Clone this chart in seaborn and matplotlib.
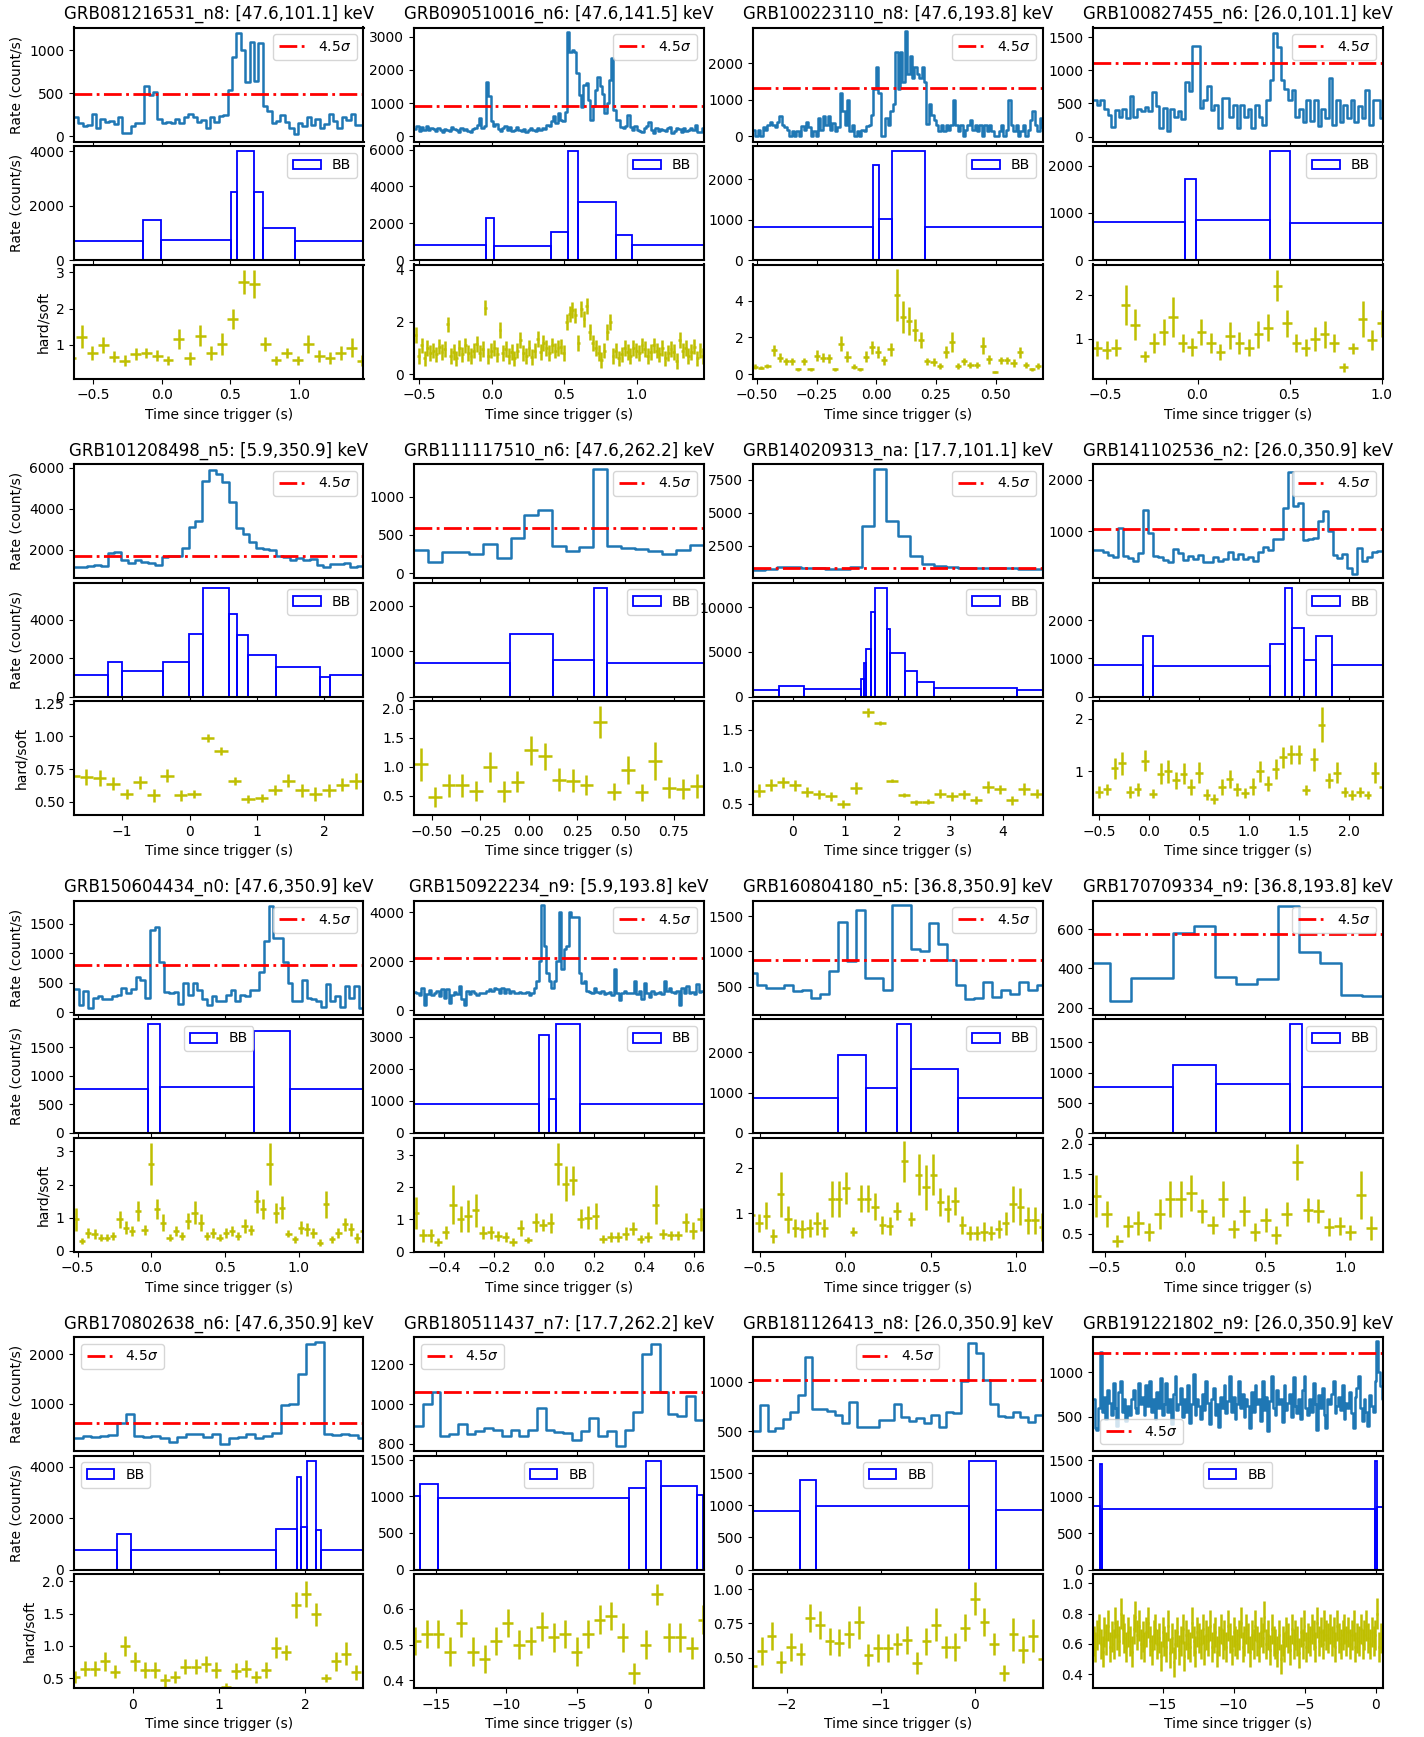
import numpy as np
import matplotlib
matplotlib.use("Agg")
import matplotlib.pyplot as plt
import seaborn as sns

plt.rcParams.update({
    "font.family": ["DejaVu Sans"],
    "font.size": 10,
    "axes.linewidth": 1.5,
    "xtick.labelsize": 10,
    "ytick.labelsize": 10,
    "legend.fontsize": 10,
    "axes.titlesize": 12,
})

# ---------------- GRB081216531 ----------------
title_081216531 = "GRB081216531_n8: [47.6,101.1] keV"
lc_bins_081216531 = (-0.64, 0.032)
lc_081216531 = [230, 150, 120, 130, 260, 100, 200, 170, 180, 140,
                220, 40, 40, 120, 160, 160, 590, 480, 520, 200,
                160, 170, 160, 200, 160, 230, 260, 230, 170, 190,
                100, 220, 170, 240, 250, 540, 920, 1200, 1000, 630,
                1100, 640, 1090, 350, 300, 150, 180, 250, 170, 100,
                30, 150, 120, 220, 130, 200, 100, 140, 260, 180,
                100, 230, 190, 260, 130, 130]
thr_081216531 = 488
bb_edges_081216531 = [-0.64, -0.139, -0.007, 0.502, 0.545, 0.673, 0.739, 0.970, 1.47]
bb_rate_081216531 = [714, 1465, 750, 2500, 4000, 2500, 1170, 714]
hr_bins_081216531 = (-0.663, 0.0787)
hr_081216531 = [0.63, 1.23, 0.78, 1.0, 0.68, 0.57, 0.76, 0.78, 0.7, 0.58, 1.17, 0.63, 1.26, 0.78,
                1.03, 1.72, 2.72, 2.67, 1.03, 0.58, 0.78, 0.58, 1.03, 0.7, 0.65, 0.78, 0.93, 0.57]
hr_err_081216531 = [0.2, 0.32, 0.18, 0.22, 0.15, 0.15, 0.17, 0.15, 0.15, 0.13, 0.28, 0.17, 0.3, 0.2,
                    0.3, 0.28, 0.33, 0.38, 0.2, 0.12, 0.15, 0.12, 0.25, 0.17, 0.17, 0.2, 0.25, 0.15]

# ---------------- GRB090510016 ----------------
title_090510016 = "GRB090510016_n6: [47.6,141.5] keV"
lc_bins_090510016 = (-0.537, 0.016)
lc_090510016 = [230, 320, 150, 280, 200, 310, 180, 250, 220, 160, 260, 200, 140, 230, 180,
                160, 290, 220, 180, 120, 260, 200, 230, 170, 140, 230, 250, 330, 560, 250,
                300, 1650, 1200, 450, 300,
                380, 220, 160, 260, 300, 200, 280, 150, 200, 270, 190, 160, 230, 140, 200,
                250, 180, 160, 240, 200, 260, 230, 350, 300,
                450, 620, 400, 700, 500, 450, 720, 3150,
                2550, 2600, 2550,
                1900, 1250, 880, 1550, 1600, 1100, 480, 900, 1400, 1790, 1500, 1280, 700, 1000,
                1700, 2350, 800, 480, 480, 270,
                260, 300, 650, 270, 200, 300, 180, 150, 120, 250, 300, 420, 200, 100, 240, 160,
                220, 200, 150, 260, 280, 100, 160, 240, 220, 130, 260, 170, 200, 250, 180, 330,
                140, 120, 250]
thr_090510016 = 910
bb_edges_090510016 = [-0.537, -0.038, 0.016, 0.405, 0.528, 0.597, 0.857, 0.967, 1.46]
bb_rate_090510016 = [840, 2265, 785, 1516, 5900, 3140, 1350, 840]
hr_bins_090510016 = (-0.524, 0.02)
hr_090510016 = [1.5, 0.7, 1.1, 0.6, 1.0, 0.8, 0.9, 0.75, 1.05, 0.85,
                0.95, 1.9, 0.7, 0.85, 0.6, 1.0, 0.75, 1.1, 0.8, 0.7,
                0.9, 1.15, 0.8, 0.95, 2.55, 0.7, 0.9, 1.0, 0.75, 1.7,
                0.8, 0.95, 0.7, 0.85, 0.6, 0.9, 1.3, 0.8, 0.7, 1.0,
                0.65, 0.9, 1.35, 0.85, 1.2, 1.0, 0.8, 1.1, 0.9, 1.0,
                1.05, 0.8, 2.0, 2.3, 2.45, 2.25, 1.2, 2.5, 2.1, 2.6,
                1.6, 1.2, 1.0, 0.8, 0.55, 0.9, 1.6, 2.0, 0.7, 0.9,
                0.6, 0.75, 1.0, 0.85, 0.7, 1.0, 0.9, 0.8, 1.1, 0.95,
                0.7, 0.85, 1.1, 0.9, 0.75, 1.0, 0.6, 0.8, 0.95, 0.85,
                0.5, 1.3, 0.9, 1.0, 0.7, 0.85, 1.05, 0.6, 0.9, 0.7]
hr_err_090510016 = 0.3

# ---------------- GRB100223110 ----------------
title_100223110 = "GRB100223110_n8: [47.6,193.8] keV"
lc_bins_100223110 = (-0.517, 0.0101)
lc_100223110 = [170, 0, 170, 0, 250, 170, 300, 400, 300, 250,
                400, 550, 300, 250, 170, 0, 150, 0, 150, 0,
                280, 170, 400, 250, 0, 150, 0, 500, 170, 550,
                300, 550, 170, 380, 150, 250, 1200, 700, 300, 1000,
                150, 300, 0, 150, 0, 170, 150, 280, 300, 600,
                1300, 1900, 1200, 0, 0, 500, 300, 700, 900, 2300,
                1300, 2300, 1500, 2900, 1700, 2200, 1600, 1900, 1700, 1600,
                1900, 1500, 350, 900, 600, 450, 300, 150, 300, 150,
                300, 170, 300, 1000, 300, 150, 300, 0, 170, 300,
                450, 170, 300, 150, 300, 0, 300, 150, 300, 150,
                0, 0, 150, 300, 0, 170, 1000, 300, 150, 300,
                0, 150, 300, 0, 170, 450, 700, 300, 150, 500,
                250]
thr_100223110 = 1330
bb_edges_100223110 = [-0.517, -0.013, 0.010, 0.067, 0.206, 0.697]
bb_rate_100223110 = [825, 2360, 1010, 2690, 825]
hr_bins_100223110 = (-0.508, 0.0258)
hr_100223110 = [0.4, 0.35, 0.45, 1.3, 0.9, 0.7, 0.7, 0.25, 0.7, 0.25,
                1.0, 0.9, 0.85, 0.25, 1.65, 0.95, 0.4, 0.25, 0.95, 1.45,
                1.2, 0.75, 1.35, 4.3, 3.1, 2.9, 2.4, 1.85, 0.7, 0.65,
                0.45, 1.2, 1.75, 0.45, 0.7, 0.5, 0.5, 1.55, 0.8, 0.1,
                0.75, 0.75, 0.6, 1.2, 0.5, 0.25, 0.45]
hr_err_100223110 = [0.15, 0.1, 0.12, 0.3, 0.25, 0.2, 0.2, 0.1, 0.2, 0.1,
                    0.3, 0.25, 0.25, 0.1, 0.4, 0.3, 0.15, 0.1, 0.3, 0.35,
                    0.35, 0.25, 0.35, 1.4, 0.85, 0.75, 0.6, 0.45, 0.2, 0.2,
                    0.15, 0.35, 0.55, 0.15, 0.2, 0.15, 0.15, 0.45, 0.25, 0.05,
                    0.2, 0.2, 0.2, 0.3, 0.15, 0.1, 0.15]

# ---------------- GRB100827455 ----------------
title_100827455 = "GRB100827455_n6: [26.0,101.1] keV"
lc_bins_100827455 = (-0.568, 0.02)
lc_100827455 = [560, 480, 560, 420, 320, 150, 400, 300, 420, 280,
                610, 300, 420, 380, 440, 380, 680, 460, 130, 430,
                80, 420, 300, 380, 270, 820, 690, 1370, 1370, 430,
                550, 760, 400, 480, 130, 580, 580, 300, 480, 130,
                480, 300, 420, 130, 480, 300, 170, 560, 850, 1560,
                1350, 850, 720, 560, 700, 300, 420, 220, 560, 230,
                560, 160, 420, 280, 880, 180, 560, 220, 480, 280,
                560, 220, 460, 280, 700, 180, 560, 560, 280]
thr_100827455 = 1110
bb_edges_100827455 = [-0.568, -0.066, -0.007, 0.396, 0.501, 1.005]
bb_rate_100827455 = [800, 1730, 850, 2305, 795]
hr_bins_100827455 = (-0.545, 0.0515)
hr_100827455 = [0.78, 0.75, 0.8, 1.77, 1.32, 0.6, 0.9, 1.15, 1.5, 0.9,
                0.82, 1.15, 0.9, 0.7, 1.07, 0.9, 0.8, 1.1, 1.25, 2.2,
                1.35, 0.9, 0.8, 1.0, 1.1, 0.9, 0.35, 0.78, 1.45, 0.97, 1.35]
hr_err_100827455 = [0.17, 0.2, 0.2, 0.45, 0.35, 0.13, 0.22, 0.3, 0.45, 0.2,
                    0.2, 0.3, 0.22, 0.18, 0.3, 0.25, 0.2, 0.3, 0.3, 0.35,
                    0.3, 0.2, 0.2, 0.27, 0.3, 0.2, 0.1, 0.12, 0.4, 0.22, 0.3]

# ---------------- GRB101208498 ----------------
title_101208498 = "GRB101208498_n5: [5.9,350.9] keV"
lc_bins_101208498 = (-1.715, 0.1)
lc_101208498 = [1150, 1150, 1200, 1250, 1200, 1850, 1900, 1500, 1350, 1500,
                1400, 1350, 1250, 1650, 1700, 1700, 2100, 3100, 3400, 5350,
                5900, 5700, 5300, 4350, 3050, 2750, 2400, 2100, 2050, 2000,
                1700, 1650, 1500, 1600, 1500, 1550, 1250, 1150, 1300, 1300,
                1350, 1150, 1200]
thr_101208498 = 1675
bb_edges_101208498 = [-1.715, -1.217, -1.009, -0.39, -0.013, 0.195, 0.578, 0.699, 0.861, 1.284, 1.93, 2.09, 2.58]
bb_rate_101208498 = [1143, 1800, 1350, 1818, 3255, 5645, 4277, 3203, 2182, 1541, 1004, 1143]
hr_bins_101208498 = (-1.733, 0.2)
hr_101208498 = [0.70, 0.69, 0.68, 0.64, 0.56, 0.65, 0.55, 0.70, 0.55, 0.56, 0.99,
                0.89, 0.66, 0.52, 0.53, 0.59, 0.66, 0.59, 0.56, 0.59, 0.63, 0.66]
hr_err_101208498 = [0.05, 0.06, 0.06, 0.05, 0.04, 0.05, 0.05, 0.05, 0.04, 0.03, 0.03,
                    0.03, 0.03, 0.03, 0.03, 0.04, 0.05, 0.05, 0.05, 0.05, 0.05, 0.06]

# ---------------- GRB111117510 ----------------
title_111117510 = "GRB111117510_n6: [47.6,262.2] keV"
lc_bins_111117510 = (-0.594, 0.0714)
lc_111117510 = [300, 140, 280, 270, 250, 380, 200, 460, 760, 830,
                350, 290, 340, 1360, 350, 330, 310, 290, 250, 300, 370]
thr_111117510 = 591
bb_edges_111117510 = [-0.594, -0.096, 0.125, 0.338, 0.404, 0.905]
bb_rate_111117510 = [745, 1365, 796, 2387, 745]
hr_bins_111117510 = (-0.558, 0.0714)
hr_111117510 = [1.04, 0.48, 0.68, 0.68, 0.58, 1.0, 0.58, 0.74, 1.28, 1.18,
                0.78, 0.76, 0.68, 1.77, 0.57, 0.94, 0.56, 1.1, 0.64, 0.62, 0.67]
hr_err_111117510 = [0.28, 0.17, 0.2, 0.2, 0.17, 0.26, 0.18, 0.18, 0.25, 0.23,
                    0.2, 0.2, 0.17, 0.28, 0.15, 0.24, 0.15, 0.32, 0.18, 0.17, 0.2]

# ---------------- GRB140209313 ----------------
title_140209313 = "GRB140209313_na: [17.7,101.1] keV"
lc_bins_140209313 = (-0.762, 0.2302)
lc_140209313 = [650, 720, 850, 900, 800, 780, 750, 760, 850, 4000, 8300, 4400,
                3250, 1700, 1100, 950, 850, 820, 820, 800, 800, 780, 700, 700]
thr_140209313 = 808
bb_edges_140209313 = [-0.762, -0.26, 0.208, 1.299, 1.351, 1.403, 1.489, 1.558, 1.80, 1.861,
                      2.139, 2.372, 2.684, 4.268, 4.762]
bb_rate_140209313 = [746, 1157, 821, 1940, 3769, 5300, 9440, 12160, 7612, 4925, 2910, 1640, 1000, 746]
hr_bins_140209313 = (-0.647, 0.2302)
hr_140209313 = [0.68, 0.76, 0.79, 0.75, 0.66, 0.63, 0.6, 0.5, 0.71, 1.74, 1.59, 0.81,
                0.62, 0.52, 0.53, 0.64, 0.6, 0.63, 0.55, 0.73, 0.7, 0.55, 0.7, 0.64]
hr_err_140209313 = [0.09, 0.08, 0.07, 0.07, 0.07, 0.06, 0.06, 0.05, 0.08, 0.06, 0.03, 0.02,
                    0.03, 0.03, 0.03, 0.06, 0.06, 0.06, 0.05, 0.08, 0.06, 0.06, 0.08, 0.06]

# ---------------- GRB141102536 ----------------
title_141102536 = "GRB141102536_n2: [26.0,350.9] keV"
lc_bins_141102536 = (-0.562, 0.05)
lc_141102536 = [650, 640, 600, 550, 510, 1060, 520, 480, 420, 580,
                1420, 980, 520, 500, 450, 400, 660, 580, 450, 530,
                460, 540, 400, 410, 500, 420, 460, 600, 470, 560,
                460, 500, 430, 600, 700, 640, 850, 850, 1450, 2150,
                1500, 1550, 830, 850, 870, 1200, 1400, 1000, 550, 480,
                560, 300, 170, 680, 420, 500, 600, 620]
thr_141102536 = 1045
bb_edges_141102536 = [-0.562, -0.063, 0.036, 1.21, 1.36, 1.428, 1.55, 1.668, 1.836, 2.339]
bb_rate_141102536 = [820, 1570, 793, 1366, 2840, 1789, 952, 1586, 820]
hr_bins_141102536 = (-0.499, 0.0768)
hr_141102536 = [0.6, 0.65, 1.05, 1.15, 0.6, 0.65, 1.2, 0.57, 0.95, 1.0,
                0.82, 0.95, 0.7, 0.97, 0.55, 0.47, 0.7, 0.85, 0.65, 0.58,
                0.7, 1.0, 0.76, 1.04, 1.26, 1.32, 1.32, 0.64, 1.23, 1.89,
                0.82, 0.97, 0.6, 0.54, 0.6, 0.54, 0.97, 0.7]
hr_err_141102536 = [0.12, 0.1, 0.2, 0.22, 0.12, 0.12, 0.2, 0.08, 0.2, 0.22,
                    0.17, 0.2, 0.15, 0.2, 0.1, 0.1, 0.15, 0.17, 0.13, 0.1,
                    0.16, 0.2, 0.15, 0.2, 0.2, 0.18, 0.18, 0.1, 0.22, 0.34,
                    0.14, 0.2, 0.1, 0.1, 0.1, 0.08, 0.2, 0.1]

# ---------------- GRB150604434 ----------------
title_150604434 = "GRB150604434_n0: [47.6,350.9] keV"
lc_bins_150604434 = (-0.525, 0.0322)
lc_150604434 = [400, 130, 370, 80, 250, 280, 230, 230, 280, 300,
                420, 330, 400, 600, 550, 250, 1400, 1440, 860, 350,
                330, 350, 150, 500, 300, 500, 380, 230, 120, 280,
                200, 200, 300, 380, 190, 290, 280, 380, 380, 690,
                1200, 1800, 1250, 1250, 850, 500, 200, 200, 550, 250,
                230, 200, 100, 480, 200, 280, 100, 440, 250, 450, 80]
thr_150604434 = 805
bb_edges_150604434 = [-0.525, -0.025, 0.061, 0.697, 0.94, 1.438]
bb_rate_150604434 = [762, 1895, 808, 1785, 762]
hr_bins_150604434 = (-0.513, 0.0424)
hr_150604434 = [0.95, 0.3, 0.55, 0.5, 0.4, 0.4, 0.45, 0.95, 0.7, 0.6,
                1.2, 0.62, 2.62, 1.25, 0.85, 0.4, 0.6, 0.45, 0.9, 1.15,
                0.85, 0.45, 0.55, 0.4, 0.55, 0.6, 0.45, 0.75, 0.62, 1.5,
                1.25, 2.62, 1.15, 1.3, 0.52, 0.35, 0.7, 0.65, 0.55, 0.25,
                1.4, 0.35, 0.55, 0.8, 0.65, 0.4, 0.6]
hr_err_150604434 = [0.35, 0.1, 0.15, 0.15, 0.1, 0.1, 0.12, 0.25, 0.2, 0.15,
                    0.3, 0.15, 0.62, 0.3, 0.25, 0.1, 0.15, 0.12, 0.25, 0.35,
                    0.25, 0.12, 0.15, 0.1, 0.15, 0.15, 0.12, 0.2, 0.15, 0.35,
                    0.3, 0.62, 0.3, 0.35, 0.1, 0.1, 0.2, 0.2, 0.15, 0.1,
                    0.4, 0.1, 0.15, 0.2, 0.2, 0.15, 0.2]

# ---------------- GRB150922234 ----------------
title_150922234 = "GRB150922234_n9: [5.9,193.8] keV"
lc_bins_150922234 = (-0.521, 0.01)
lc_150922234 = [740, 700, 620, 900, 230, 650, 820, 600, 700, 780,
                580, 850, 500, 880, 300, 600, 750, 650, 1000, 450,
                220, 770, 650, 800, 720, 600, 700, 720, 700, 770,
                850, 800, 900, 850, 700, 900, 720, 860, 700, 800,
                720, 700, 750, 680, 700, 750, 600, 700, 900, 1200,
                2000, 4300, 2600, 1500, 1200, 900, 1200, 2000, 4000, 1700,
                2500, 2600, 4000, 3800, 3800, 3800, 1500, 1100, 1200, 800,
                750, 700, 900, 750, 700, 800, 650, 700, 750, 600,
                1700, 700, 400, 700, 800, 700, 680, 700, 1200, 650,
                800, 450, 1100, 700, 550, 800, 650, 700, 750, 650,
                1200, 800, 900, 750, 700, 800, 200, 900, 700, 1000,
                700, 750, 650, 1050, 750, 800]
thr_150922234 = 2110
bb_edges_150922234 = [-0.521, -0.022, 0.02, 0.046, 0.142, 0.638]
bb_rate_150922234 = [893, 3053, 1059, 3385, 893]
hr_bins_150922234 = (-0.514, 0.03)
hr_150922234 = [1.2, 0.5, 0.5, 0.3, 0.6, 1.45, 1.0, 1.1, 1.27, 0.58,
                0.6, 0.48, 0.45, 0.3, 0.72, 0.35, 0.9, 0.82, 0.88, 2.7,
                2.1, 2.2, 1.02, 1.05, 1.1, 0.38, 0.45, 0.45, 0.55, 0.7,
                0.38, 0.45, 1.45, 0.55, 0.5, 0.5, 0.9, 0.65, 1.0]
hr_err_150922234 = [0.5, 0.2, 0.2, 0.12, 0.2, 0.6, 0.4, 0.5, 0.5, 0.2,
                    0.2, 0.15, 0.15, 0.12, 0.25, 0.1, 0.3, 0.2, 0.3, 0.65,
                    0.55, 0.45, 0.3, 0.35, 0.4, 0.12, 0.15, 0.15, 0.2, 0.2,
                    0.12, 0.15, 0.6, 0.15, 0.15, 0.15, 0.3, 0.25, 0.35]

# ---------------- GRB160804180 ----------------
title_160804180 = "GRB160804180_n5: [36.8,350.9] keV"
lc_bins_160804180 = (-0.571, 0.053)
lc_160804180 = [690, 520, 480, 480, 520, 440, 460, 340, 400, 720,
                1420, 870, 1590, 620, 620, 460, 1660, 1660, 1040, 1010,
                1400, 1110, 880, 530, 330, 340, 570, 350, 460, 390,
                560, 450, 520]
thr_160804180 = 880
bb_edges_160804180 = [-0.539, -0.04, 0.122, 0.305, 0.385, 0.658, 1.155]
bb_rate_160804180 = [869, 1926, 1123, 2697, 1590, 869]
hr_bins_160804180 = (-0.547, 0.0425)
hr_160804180 = [0.97, 0.78, 0.95, 0.5, 1.42, 0.87, 0.67, 0.66, 0.67, 0.78,
                0.68, 1.32, 1.32, 1.55, 0.6, 1.32, 1.32, 1.15, 0.75, 0.73,
                1.05, 2.15, 0.88, 1.85, 1.57, 1.85, 1.25, 1.1, 1.27, 0.75,
                0.57, 0.57, 0.6, 0.57, 0.65, 0.78, 1.2, 1.15, 0.85, 0.85, 0.7]
hr_err_160804180 = [0.2, 0.2, 0.3, 0.15, 0.5, 0.3, 0.2, 0.2, 0.2, 0.25,
                    0.2, 0.4, 0.4, 0.35, 0.1, 0.3, 0.3, 0.3, 0.2, 0.2,
                    0.2, 0.45, 0.15, 0.45, 0.5, 0.45, 0.3, 0.3, 0.3, 0.2,
                    0.15, 0.15, 0.2, 0.15, 0.2, 0.25, 0.4, 0.4, 0.3, 0.3, 0.3]

# ---------------- GRB170709334 ----------------
title_170709334 = "GRB170709334_n9: [36.8,193.8] keV"
lc_bins_170709334 = (-0.598, 0.131)
lc_170709334 = [430, 235, 350, 350, 580, 615, 355, 320, 345, 715, 485, 430, 265, 258]
thr_170709334 = 576
bb_edges_170709334 = [-0.572, -0.073, 0.192, 0.657, 0.733, 1.232]
bb_rate_170709334 = [758, 1132, 813, 1797, 758]
hr_bins_170709334 = (-0.553, 0.066)
hr_170709334 = [1.12, 0.83, 0.38, 0.62, 0.67, 0.52, 0.82, 1.07, 1.07, 1.17,
                0.88, 0.65, 1.08, 0.57, 0.87, 0.52, 0.72, 0.47, 0.82, 1.7,
                0.9, 0.87, 0.61, 0.62, 0.52, 1.14, 0.6]
hr_err_170709334 = [0.35, 0.22, 0.1, 0.18, 0.2, 0.15, 0.25, 0.3, 0.3, 0.3,
                    0.2, 0.15, 0.3, 0.15, 0.25, 0.15, 0.2, 0.15, 0.2, 0.3,
                    0.2, 0.2, 0.15, 0.15, 0.12, 0.4, 0.2]

# ---------------- GRB170802638 ----------------
title_170802638 = "GRB170802638_n6: [47.6,350.9] keV"
lc_bins_170802638 = (-0.682, 0.0997)
lc_170802638 = [310, 350, 330, 350, 370, 600, 800, 350, 330, 340,
                300, 220, 330, 380, 380, 330, 380, 180, 300, 330,
                390, 300, 340, 400, 970, 1000, 1600, 2200, 2250, 380,
                360, 380, 360, 300]
thr_170802638 = 608
bb_edges_170802638 = [-0.682, -0.184, -0.026, 1.664, 1.906, 1.948, 2.016, 2.121, 2.178, 2.672]
bb_rate_170802638 = [743, 1368, 743, 1590, 3622, 1642, 4234, 1550, 743]
hr_bins_170802638 = (-0.672, 0.1165)
hr_170802638 = [0.52, 0.65, 0.65, 0.76, 0.6, 1.0, 0.76, 0.63, 0.63, 0.47,
                0.52, 0.68, 0.68, 0.72, 0.63, 0.37, 0.61, 0.65, 0.52, 0.63,
                0.97, 0.9, 1.63, 1.8, 1.49, 0.51, 0.76, 0.88, 0.59]
hr_err_170802638 = [0.1, 0.12, 0.12, 0.15, 0.1, 0.15, 0.15, 0.12, 0.12, 0.1,
                    0.1, 0.12, 0.12, 0.13, 0.12, 0.06, 0.12, 0.13, 0.1, 0.12,
                    0.16, 0.12, 0.2, 0.2, 0.18, 0.06, 0.15, 0.18, 0.12]

# ---------------- GRB180511437 ----------------
title_180511437 = "GRB180511437_n7: [17.7,262.2] keV"
lc_bins_180511437 = (-16.54, 0.621)
lc_180511437 = [890, 1000, 1060, 840, 850, 900, 850, 865, 880, 870,
                840, 870, 840, 870, 980, 870, 860, 855, 820, 865,
                930, 840, 865, 790, 870, 960, 1250, 1305, 1060, 950,
                940, 1040, 920]
thr_180511437 = 1060
bb_edges_180511437 = [-16.54, -16.09, -14.81, -1.32, -0.1, 0.93, 3.47, 3.95]
bb_rate_180511437 = [1000, 1170, 982, 1120, 1486, 1142, 1014]
hr_bins_180511437 = (-16.44, 0.815)
hr_180511437 = [0.51, 0.53, 0.53, 0.48, 0.56, 0.48, 0.46, 0.51, 0.56, 0.5,
                0.51, 0.55, 0.52, 0.53, 0.48, 0.53, 0.57, 0.58, 0.52, 0.42,
                0.5, 0.64, 0.52, 0.52, 0.49, 0.57]
hr_err_180511437 = [0.04, 0.04, 0.04, 0.04, 0.04, 0.04, 0.04, 0.04, 0.04, 0.04,
                    0.04, 0.04, 0.04, 0.04, 0.04, 0.04, 0.04, 0.04, 0.04, 0.03,
                    0.04, 0.03, 0.04, 0.04, 0.03, 0.04]

# ---------------- GRB181126413 ----------------
title_181126413 = "GRB181126413_n8: [26.0,350.9] keV"
lc_bins_181126413 = (-2.362, 0.079)
lc_181126413 = [505, 770, 500, 530, 620, 690, 870, 1250, 720, 720,
                700, 660, 580, 800, 540, 540, 540, 610, 610, 780,
                640, 600, 630, 580, 660, 540, 690, 680, 1010, 1400,
                1300, 1020, 780, 650, 640, 690, 640, 590, 660]
thr_181126413 = 1017
bb_edges_181126413 = [-2.362, -1.86, -1.696, -0.058, 0.227, 0.72]
bb_rate_181126413 = [914, 1400, 987, 1693, 925]
hr_bins_181126413 = (-2.37, 0.103)
hr_181126413 = [0.44, 0.55, 0.66, 0.47, 0.58, 0.53, 0.79, 0.74, 0.62, 0.61,
                0.67, 0.76, 0.52, 0.57, 0.57, 0.6, 0.63, 0.46, 0.62, 0.74,
                0.58, 0.58, 0.72, 0.93, 0.76, 0.6, 0.39, 0.67, 0.56, 0.66, 0.49]
hr_err_181126413 = [0.05, 0.1, 0.1, 0.08, 0.1, 0.08, 0.1, 0.1, 0.1, 0.1,
                    0.1, 0.12, 0.08, 0.1, 0.1, 0.08, 0.1, 0.08, 0.1, 0.12,
                    0.08, 0.1, 0.1, 0.12, 0.1, 0.08, 0.06, 0.12, 0.1, 0.12, 0.1]

# ---------------- GRB191221802 ----------------
title_191221802 = "GRB191221802_n9: [26.0,350.9] keV"
lc_bins_191221802 = (-19.92, 0.128)
lc_191221802 = [700, 380, 350, 600, 1225, 560, 720, 480, 800, 650,
                520, 880, 600, 400, 780, 900, 560, 700, 450, 620,
                520, 700, 800, 600, 540, 880, 640, 720, 520, 860,
                620, 900, 560, 700, 480, 780, 600, 930, 520, 640,
                880, 560, 700, 420, 760, 950, 580, 640, 820, 500,
                700, 560, 860, 430, 640, 980, 520, 700, 620, 480,
                760, 580, 900, 650, 420, 700, 820, 520, 640, 390,
                720, 600, 860, 540, 680, 960, 560, 720, 480, 640,
                900, 600, 760, 500, 700, 620, 380, 780, 560, 850,
                640, 700, 460, 900, 580, 720, 340, 680, 960, 600,
                520, 800, 640, 700, 440, 860, 580, 660, 760, 500,
                940, 620, 540, 700, 480, 800, 960, 600, 520, 700,
                560, 880, 640, 360, 740, 600, 820, 520, 380, 700,
                640, 760, 900, 540, 620, 720, 580, 860, 480, 660,
                600, 780, 540, 380, 720, 820, 960, 600, 460, 700,
                560, 400, 740, 620, 560, 900, 1340, 1000, 840, 700]
thr_191221802 = 1207
bb_edges_191221802 = [-19.9, -19.42, -19.3, -0.07, 0.07, 0.48]
bb_rate_191221802 = [867, 1445, 835, 1491, 858]
hr_bins_191221802 = (-19.86, 0.128)
hr_191221802 = [0.62, 0.58, 0.66, 0.70, 0.60, 0.55, 0.68, 0.63, 0.72, 0.58, 0.65, 0.60, 0.74, 0.66, 0.62, 0.80, 0.70, 0.64, 0.58, 0.68,
                0.62, 0.55, 0.70, 0.78, 0.66, 0.72, 0.60, 0.65, 0.58, 0.68, 0.74, 0.62, 0.56, 0.66, 0.70, 0.60, 0.64, 0.52, 0.68, 0.62,
                0.58, 0.72, 0.54, 0.64, 0.48, 0.60, 0.68, 0.56, 0.62, 0.70, 0.52, 0.66, 0.60, 0.58, 0.74, 0.62, 0.55, 0.68, 0.64, 0.60,
                0.70, 0.56, 0.66, 0.62, 0.72, 0.58, 0.64, 0.68, 0.55, 0.62, 0.70, 0.60, 0.66, 0.58, 0.72, 0.64, 0.56, 0.68, 0.62, 0.60,
                0.66, 0.74, 0.58, 0.62, 0.70, 0.64, 0.55, 0.66, 0.60, 0.72, 0.62, 0.58, 0.68, 0.64, 0.78, 0.60, 0.66, 0.56, 0.70, 0.62,
                0.60, 0.55, 0.66, 0.50, 0.62, 0.58, 0.68, 0.64, 0.56, 0.70, 0.60, 0.66, 0.62, 0.54, 0.68, 0.60, 0.72, 0.58, 0.64, 0.62,
                0.70, 0.66, 0.58, 0.74, 0.62, 0.68, 0.60, 0.72, 0.66, 0.64, 0.70, 0.62, 0.68, 0.58, 0.72, 0.64, 0.60, 0.66, 0.70, 0.62,
                0.68, 0.60, 0.66, 0.72, 0.58, 0.64, 0.62, 0.70, 0.60, 0.66, 0.72, 0.64, 0.60, 0.68, 0.62, 0.66, 0.80, 0.58, 0.64, 0.62]
hr_err_191221802 = 0.1

bursts = [
    (title_081216531, lc_bins_081216531, lc_081216531, thr_081216531, bb_edges_081216531, bb_rate_081216531, hr_bins_081216531, hr_081216531, hr_err_081216531),
    (title_090510016, lc_bins_090510016, lc_090510016, thr_090510016, bb_edges_090510016, bb_rate_090510016, hr_bins_090510016, hr_090510016, hr_err_090510016),
    (title_100223110, lc_bins_100223110, lc_100223110, thr_100223110, bb_edges_100223110, bb_rate_100223110, hr_bins_100223110, hr_100223110, hr_err_100223110),
    (title_100827455, lc_bins_100827455, lc_100827455, thr_100827455, bb_edges_100827455, bb_rate_100827455, hr_bins_100827455, hr_100827455, hr_err_100827455),
    (title_101208498, lc_bins_101208498, lc_101208498, thr_101208498, bb_edges_101208498, bb_rate_101208498, hr_bins_101208498, hr_101208498, hr_err_101208498),
    (title_111117510, lc_bins_111117510, lc_111117510, thr_111117510, bb_edges_111117510, bb_rate_111117510, hr_bins_111117510, hr_111117510, hr_err_111117510),
    (title_140209313, lc_bins_140209313, lc_140209313, thr_140209313, bb_edges_140209313, bb_rate_140209313, hr_bins_140209313, hr_140209313, hr_err_140209313),
    (title_141102536, lc_bins_141102536, lc_141102536, thr_141102536, bb_edges_141102536, bb_rate_141102536, hr_bins_141102536, hr_141102536, hr_err_141102536),
    (title_150604434, lc_bins_150604434, lc_150604434, thr_150604434, bb_edges_150604434, bb_rate_150604434, hr_bins_150604434, hr_150604434, hr_err_150604434),
    (title_150922234, lc_bins_150922234, lc_150922234, thr_150922234, bb_edges_150922234, bb_rate_150922234, hr_bins_150922234, hr_150922234, hr_err_150922234),
    (title_160804180, lc_bins_160804180, lc_160804180, thr_160804180, bb_edges_160804180, bb_rate_160804180, hr_bins_160804180, hr_160804180, hr_err_160804180),
    (title_170709334, lc_bins_170709334, lc_170709334, thr_170709334, bb_edges_170709334, bb_rate_170709334, hr_bins_170709334, hr_170709334, hr_err_170709334),
    (title_170802638, lc_bins_170802638, lc_170802638, thr_170802638, bb_edges_170802638, bb_rate_170802638, hr_bins_170802638, hr_170802638, hr_err_170802638),
    (title_180511437, lc_bins_180511437, lc_180511437, thr_180511437, bb_edges_180511437, bb_rate_180511437, hr_bins_180511437, hr_180511437, hr_err_180511437),
    (title_181126413, lc_bins_181126413, lc_181126413, thr_181126413, bb_edges_181126413, bb_rate_181126413, hr_bins_181126413, hr_181126413, hr_err_181126413),
    (title_191221802, lc_bins_191221802, lc_191221802, thr_191221802, bb_edges_191221802, bb_rate_191221802, hr_bins_191221802, hr_191221802, hr_err_191221802),
]

# per-panel axis limits and legend placement
xlims = [(-0.64, 1.47), (-0.537, 1.46), (-0.517, 0.697), (-0.568, 1.005),
         (-1.715, 2.58), (-0.594, 0.905), (-0.762, 4.762), (-0.562, 2.339),
         (-0.525, 1.438), (-0.521, 0.638), (-0.539, 1.155), (-0.572, 1.232),
         (-0.682, 2.672), (-16.54, 3.95), (-2.362, 0.72), (-19.9, 0.48)]
lc_ylims = [(-60, 1265), (-160, 3280), (-140, 2985), (-75, 1650),
            (618, 6195), (-65, 1426), (50, 8712), (97, 2310),
            (-34, 1891), (-178, 4479), (105, 1724), (166, 745),
            (41, 2351), (763, 1338), (296, 1459), (122, 1389)]
hr_ylims = [(0.08, 3.21), (-0.17, 4.2), (-0.24, 5.96), (0.10, 2.68),
            (0.40, 1.27), (0.17, 2.13), (0.35, 1.89), (0.16, 2.34),
            (-0.02, 3.42), (0.0, 3.53), (0.16, 2.67), (0.2, 2.1),
            (0.35, 2.11), (0.379, 0.697), (0.28, 1.11), (0.31, 1.06)]
lc_loc = ["upper right"] * 12 + ["upper left", "upper left", "upper center", "lower left"]
bb_loc = ["upper right"] * 8 + ["upper center", "upper right", "upper right", "upper right",
                                 "upper left", "upper center", "upper center", "upper center"]

W, H = 1424, 1737
fig = plt.figure(figsize=(W / 100, H / 100), dpi=100)
col_left = [74, 414, 753, 1093]
group_top = [27.5, 464, 900.5, 1337]
row_off = [0, 118.5, 237]
ax_w, ax_h = 289.5, 114


def px_axes(left, top):
    return fig.add_axes([left / W, 1 - (top + ax_h) / H, ax_w / W, ax_h / H])


for i, (title, lcb, lc, thr, bbe, bbr, hrb, hr, hre) in enumerate(bursts):
    g, c = divmod(i, 4)
    ax_lc = px_axes(col_left[c], group_top[g] + row_off[0])
    ax_bb = px_axes(col_left[c], group_top[g] + row_off[1])
    ax_hr = px_axes(col_left[c], group_top[g] + row_off[2])

    # light curve
    edges = lcb[0] + lcb[1] * np.arange(len(lc) + 1)
    yv = np.append(np.asarray(lc, float), lc[-1])
    sns.lineplot(x=edges, y=yv, drawstyle="steps-post", color="#1f77b4", linewidth=1.8,
                 ax=ax_lc, estimator=None, sort=False, legend=False)
    thr_line = ax_lc.axhline(thr, color="red", ls="-.", lw=2, label=r"4.5$\sigma$")
    ax_lc.legend(handles=[thr_line], loc=lc_loc[i])
    ax_lc.set_ylim(*lc_ylims[i])
    ax_lc.set_title(title)

    # Bayesian blocks
    e = np.asarray(bbe, float)
    ax_bb.bar(e[:-1], bbr, width=np.diff(e), align="edge", fill=False,
              edgecolor="blue", linewidth=1.3, label="BB")
    ax_bb.legend(loc=bb_loc[i])

    # hardness ratio
    centers = hrb[0] + hrb[1] * np.arange(len(hr))
    ax_hr.errorbar(centers, hr, xerr=hrb[1] / 2, yerr=hre, fmt="none",
                   ecolor="y", elinewidth=1.8)
    ax_hr.set_ylim(*hr_ylims[i])

    for ax in (ax_lc, ax_bb, ax_hr):
        ax.set_xlim(*xlims[i])
        ax.set_xlabel("")
        ax.set_ylabel("")
    ax_lc.tick_params(labelbottom=False)
    ax_bb.tick_params(labelbottom=False)
    ax_hr.set_xlabel("Time since trigger (s)")
    if c == 0:
        ax_lc.set_ylabel("Rate (count/s)")
        ax_bb.set_ylabel("Rate (count/s)")
        ax_hr.set_ylabel("hard/soft")

fig.savefig("out.png", dpi=100)
